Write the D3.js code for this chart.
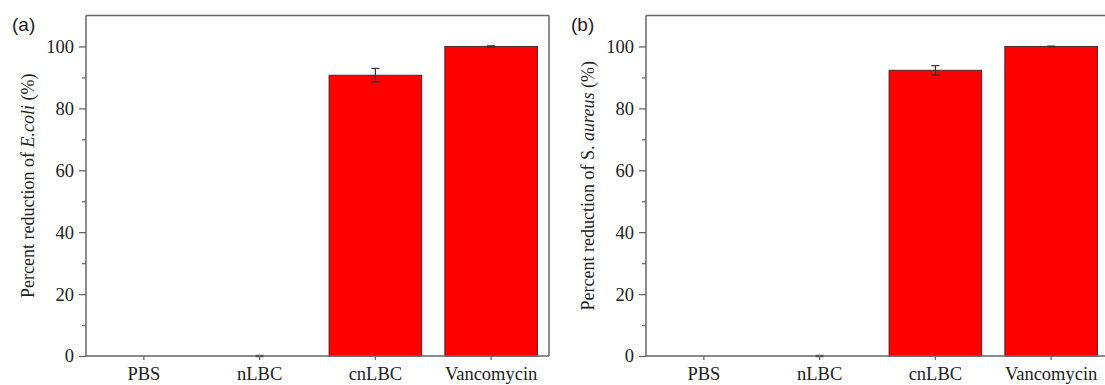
<!DOCTYPE html>
<html>
<head>
<meta charset="utf-8">
<script src="https://cdn.jsdelivr.net/npm/d3@7"></script>
<style>
  body { margin: 0; background: #fff; }
  svg { display: block; }
</style>
</head>
<body>
<div id="chart"></div>
<script>
// data
const groups = ['PBS', 'nLBC', 'cnLBC', 'Vancomycin'];
const ecoliMean = [0, 0, 90.7, 100];
const ecoliErr = [0, 0.2, 2.2, 0.2];
const aureusMean = [0, 0, 92.3, 100];
const aureusErr = [0, 0.2, 1.5, 0.1];
const yTicks = [0, 20, 40, 60, 80, 100];
const yMinorTicks = [10, 30, 50, 70, 90];

const width = 1105, height = 385;
const svg = d3.select('#chart').append('svg')
  .attr('width', width)
  .attr('height', height);

const serif = '"Liberation Serif", "DejaVu Serif", serif';
const axisColor = '#666';

function drawPanel(opts) {
  const left = opts.left, right = opts.right;
  const top = 15.5, bottom = 356;

  const x = d3.scaleBand()
    .domain(groups)
    .range([left, right])
    .paddingInner(0.2)
    .paddingOuter(0.1);

  const y = d3.scaleLinear()
    .domain([0, 110])
    .range([bottom, top]);

  const g = svg.append('g');

  const rows = groups.map((d, i) => ({ label: d, value: opts.mean[i], err: opts.err[i] }));

  // bars (zero ones end up flat)
  g.selectAll('rect.bar')
    .data(rows.filter(d => d.value > 0))
    .enter()
    .append('rect')
    .attr('class', 'bar')
    .attr('x', d => x(d.label))
    .attr('y', d => y(d.value))
    .attr('width', x.bandwidth())
    .attr('height', d => y(0) - y(d.value))
    .attr('fill', '#ff0000')
    .attr('stroke', '#4a2a2a')
    .attr('stroke-width', 1);

  // error bars
  const eb = g.selectAll('g.err')
    .data(rows.filter(d => d.err > 0))
    .enter()
    .append('g')
    .attr('stroke', '#333')
    .attr('stroke-width', 1.2);
  eb.append('line')
    .attr('x1', d => x(d.label) + x.bandwidth() / 2)
    .attr('x2', d => x(d.label) + x.bandwidth() / 2)
    .attr('y1', d => y(d.value + d.err))
    .attr('y2', d => y(d.value - d.err));
  eb.append('line')
    .attr('x1', d => x(d.label) + x.bandwidth() / 2 - 4)
    .attr('x2', d => x(d.label) + x.bandwidth() / 2 + 4)
    .attr('y1', d => y(d.value + d.err))
    .attr('y2', d => y(d.value + d.err));
  eb.append('line')
    .attr('x1', d => x(d.label) + x.bandwidth() / 2 - 4)
    .attr('x2', d => x(d.label) + x.bandwidth() / 2 + 4)
    .attr('y1', d => y(d.value - d.err))
    .attr('y2', d => y(d.value - d.err));

  // frame: top and right lines
  g.append('line')
    .attr('x1', left).attr('x2', right)
    .attr('y1', top).attr('y2', top)
    .attr('stroke', axisColor).attr('stroke-width', 1.5);
  g.append('line')
    .attr('x1', right).attr('x2', right)
    .attr('y1', top).attr('y2', bottom)
    .attr('stroke', axisColor).attr('stroke-width', 1.5);

  // y axis minor ticks
  const yMinor = g.append('g')
    .attr('transform', 'translate(' + left + ',0)')
    .call(d3.axisLeft(y).tickValues(yMinorTicks).tickSize(4).tickFormat(''));
  yMinor.select('.domain').remove();
  yMinor.selectAll('line').attr('stroke', axisColor).attr('stroke-width', 1.3);

  // y axis
  const yAxis = g.append('g')
    .attr('transform', 'translate(' + left + ',0)')
    .call(d3.axisLeft(y).tickValues(yTicks).tickSize(7).tickPadding(5).tickSizeOuter(0));
  yAxis.select('.domain').attr('stroke', axisColor).attr('stroke-width', 1.5)
    .attr('d', 'M0,' + top + 'V' + bottom);
  yAxis.selectAll('line').attr('stroke', axisColor).attr('stroke-width', 1.3);
  yAxis.selectAll('text')
    .attr('fill', '#222')
    .style('font-family', serif)
    .style('font-size', '18.5px');

  // x axis
  const xAxis = g.append('g')
    .attr('transform', 'translate(0,' + bottom + ')')
    .call(d3.axisBottom(x).tickSize(4).tickPadding(7).tickSizeOuter(0));
  xAxis.select('.domain').attr('stroke', axisColor).attr('stroke-width', 1.5)
    .attr('d', 'M' + (left - 1) + ',0H' + right);
  xAxis.selectAll('line').attr('stroke', axisColor).attr('stroke-width', 1.3);
  xAxis.selectAll('text')
    .attr('fill', '#222')
    .style('font-family', serif)
    .style('font-size', '18.5px');

  // y title
  const t = g.append('text')
    .attr('transform', 'translate(' + (left - 58) + ',' + ((top + bottom) / 2) + ') rotate(-90)')
    .attr('text-anchor', 'middle')
    .attr('dy', '0.35em')
    .attr('fill', '#222')
    .style('font-family', serif)
    .style('font-size', '18px');
  t.append('tspan').text(opts.titlePre);
  t.append('tspan').style('font-style', 'italic').text(opts.titleItalic);
  t.append('tspan').text(' (%)');

  // panel letter
  g.append('text')
    .attr('x', opts.letterX)
    .attr('y', 31)
    .attr('fill', '#222')
    .style('font-family', '"Liberation Sans", Arial, sans-serif')
    .style('font-size', '19px')
    .text(opts.letter);
}

drawPanel({
  left: 86, right: 549,
  mean: ecoliMean, err: ecoliErr,
  titlePre: 'Percent reduction of ', titleItalic: 'E.coli',
  letter: '(a)', letterX: 12
});

drawPanel({
  left: 646, right: 1109,
  mean: aureusMean, err: aureusErr,
  titlePre: 'Percent reduction of S. ', titleItalic: 'aureus',
  letter: '(b)', letterX: 571
});
</script>
</body>
</html>
